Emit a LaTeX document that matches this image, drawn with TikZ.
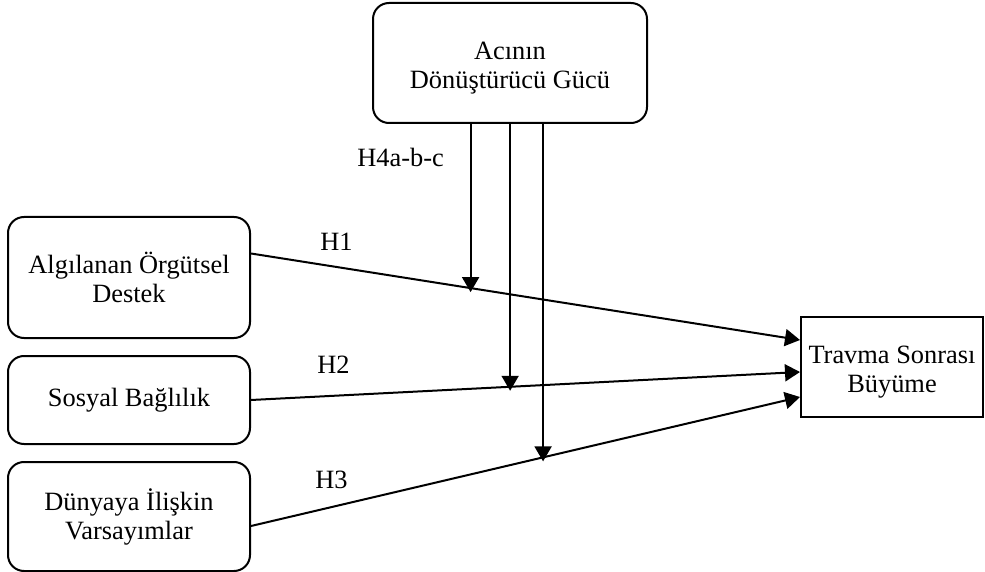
\documentclass[tikz,border=0pt]{standalone}
\usepackage{fontspec}
\setmainfont{Liberation Serif}
\usetikzlibrary{positioning,arrows.meta}

\begin{document}
\begin{tikzpicture}[x=0.5pt,y=-0.5pt,
    font=\fontsize{13.2}{14.5}\selectfont,
    box/.style={draw,line width=1pt,rounded corners=8pt,align=center,minimum width=121pt,inner sep=0pt},
    outcome/.style={draw,line width=1pt,align=center,minimum width=91pt,minimum height=50pt,inner sep=0pt},
    hyp/.style={-{Triangle[length=7.5pt,width=8.5pt]},line width=1pt},
    lbl/.style={anchor=base west,inner sep=0pt},
    node distance=8pt]
    \useasboundingbox (0,0) rectangle (985,572);
    \node[box,minimum width=137pt,minimum height=60pt] (acinin) at (510,63) {\rule{0pt}{14pt}Acının\\Dönüştürücü Gücü};
    \node[box,minimum height=60.5pt] (destek) at (129,277.5) {Algılanan Örgütsel\\Destek};
    \node[box,minimum height=44pt,below=of destek] (bag) {Sosyal Bağlılık};
    \node[box,minimum height=54.5pt,below=of bag] (varsayim) {Dünyaya İlişkin\\Varsayımlar};
    \node[outcome] (buyume) at (892,367) {\rule{0pt}{14pt}Travma Sonrası\\Büyüme};
    \draw[hyp] ([yshift=12pt]destek.east) -- coordinate[pos=0.4] (m1) ([yshift=13.5pt]buyume.west);
    \draw[hyp] (bag.east) -- coordinate[pos=0.472] (m2) ([yshift=-2.5pt]buyume.west);
    \draw[hyp] ([yshift=-4.75pt]varsayim.east) -- coordinate[pos=0.532] (m3) ([yshift=-15pt]buyume.west);
    \draw[hyp] (acinin.south -| m1) -- ([yshift=-2pt]m1);
    \draw[hyp] (acinin.south -| m2) -- ([yshift=-2pt]m2);
    \draw[hyp] (acinin.south -| m3) -- ([yshift=-2pt]m3);
    \node[lbl] (h4) at (357,167) {H4a-b-c};
    \node[lbl] (h1) at (320,250) {H1};
    \node[lbl] (h2) at (317,373) {H2};
    \node[lbl] (h3) at (315,488) {H3};
\end{tikzpicture}
\end{document}
